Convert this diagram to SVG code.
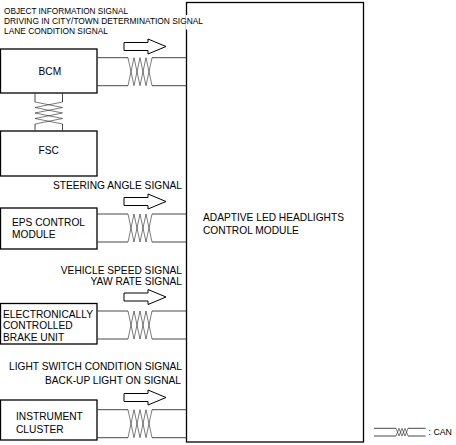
<svg xmlns="http://www.w3.org/2000/svg" width="456" height="445" viewBox="0 0 456 445">
<style>
.box{fill:#fff;stroke:#000;stroke-width:1.3}
.t{font-family:"Liberation Sans",Arial,sans-serif;font-size:10.2px;fill:#000}
.s{font-family:"Liberation Sans",Arial,sans-serif;font-size:9.2px;fill:#000}
.can{fill:none;stroke:#333;stroke-width:0.9}
.tw{fill:none;stroke:#222;stroke-width:0.6}
.arr{fill:#fff;stroke:#000;stroke-width:1}
</style>
<defs>
<polygon id="arrow" class="arr" points="0,-4 24,-4 24,-7.5 42,0 24,7.5 24,4 0,4"/>
<g id="pair">
<path class="can" d="M97,0H128M97,28H128M152,0H186.5M152,28H186.5"/>
<polyline class="tw" points="128,0 134,28 140,0 146,28 152,0"/>
<polyline class="tw" points="128,28 134,0 140,28 146,0 152,28"/>
</g>
</defs>

<rect x="0" y="15" width="207" height="14.5" fill="#fff"/>

<g id="alh">
<rect class="box" x="186.5" y="2.5" width="177" height="439.5" fill="none"/>
<rect x="186" y="15" width="21" height="14.5" fill="#fff"/>
<text class="t" x="203" y="220.5">ADAPTIVE LED HEADLIGHTS</text>
<text class="t" x="203" y="233.7">CONTROL MODULE</text>
</g>

<g id="bcm">
<rect class="box" x="0.5" y="49" width="96.5" height="44"/>
<text class="t" x="38.5" y="75.4">BCM</text>
</g>
<g id="fsc">
<rect class="box" x="0.5" y="131" width="96.5" height="45"/>
<text class="t" x="38.5" y="153.7">FSC</text>
</g>
<g id="eps">
<rect class="box" x="0.5" y="208" width="96.5" height="41"/>
<text class="t" x="12" y="226">EPS CONTROL</text>
<text class="t" x="12" y="237.7">MODULE</text>
</g>
<g id="ecbu">
<rect class="box" x="0.5" y="303.5" width="96.5" height="40.5"/>
<text class="t" x="3" y="317.7" textLength="90" lengthAdjust="spacingAndGlyphs">ELECTRONICALLY</text>
<text class="t" x="3" y="329.4">CONTROLLED</text>
<text class="t" x="3" y="340.6">BRAKE UNIT</text>
</g>
<g id="ic">
<rect class="box" x="0.5" y="400" width="96.5" height="40"/>
<text class="t" x="16" y="419.7">INSTRUMENT</text>
<text class="t" x="16" y="432.7">CLUSTER</text>
</g>

<g id="connectors">
<use href="#pair" y="57.7"/>
<use href="#pair" y="214"/>
<use href="#pair" y="311"/>
<use href="#pair" y="409.7"/>
<use href="#arrow" x="124" y="46.5"/>
<use href="#arrow" x="124" y="201.5"/>
<use href="#arrow" x="124" y="297"/>
<use href="#arrow" x="124" y="397.5"/>
<path class="can" d="M35,93V102M62.5,93V102M35,124V131M62.5,124V131"/>
<polyline class="tw" points="35,102 62.5,107.5 35,113 62.5,118.5 35,124"/>
<polyline class="tw" points="62.5,102 35,107.5 62.5,113 35,118.5 62.5,124"/>
<text class="s" x="4" y="14" textLength="124" lengthAdjust="spacingAndGlyphs">OBJECT INFORMATION SIGNAL</text>
<text class="s" x="4" y="24" textLength="199" lengthAdjust="spacingAndGlyphs">DRIVING IN CITY/TOWN DETERMINATION SIGNAL</text>
<text class="s" x="4" y="34" textLength="104" lengthAdjust="spacingAndGlyphs">LANE CONDITION SIGNAL</text>
<text class="t" x="182" y="189" text-anchor="end">STEERING ANGLE SIGNAL</text>
<text class="t" x="182" y="273.7" text-anchor="end">VEHICLE SPEED SIGNAL</text>
<text class="t" x="182" y="284.9" text-anchor="end">YAW RATE SIGNAL</text>
<text class="t" x="182" y="369.7" text-anchor="end">LIGHT SWITCH CONDITION SIGNAL</text>
<text class="t" x="181" y="383.7" text-anchor="end">BACK-UP LIGHT ON SIGNAL</text>
</g>

<g id="legend">
<path class="can" d="M374,428.3H396M374,436H396M408,428.3H425.5M408,436H425.5"/>
<polyline class="tw" points="396,428.3 399,436 402,428.3 405,436 408,428.3"/>
<polyline class="tw" points="396,436 399,428.3 402,436 405,428.3 408,436"/>
<text class="s" x="428.5" y="435" style="font-size:8.8px">: CAN</text>
</g>
</svg>
